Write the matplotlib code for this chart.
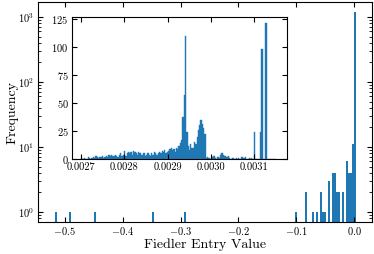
import numpy as np
import matplotlib
matplotlib.use('Agg')
import matplotlib.pyplot as plt
from matplotlib.ticker import FormatStrFormatter, MultipleLocator

plt.rcParams['font.family'] = 'serif'
plt.rcParams['font.serif'] = ['cmr10']
plt.rcParams['mathtext.fontset'] = 'cm'
plt.rcParams['axes.formatter.use_mathtext'] = True

# main histogram: entry value (bin centre) and count
main_values = [-0.5165, -0.4905, -0.4480, -0.3470, -0.2900,
               -0.0997, -0.0823, -0.0718, -0.0649, -0.0579, -0.0544, -0.0509,
               -0.0440, -0.0370, -0.0335, -0.0300, -0.0265, -0.0196,
               -0.0126, -0.0091, -0.0056, -0.0021, 0.0014]
main_counts = [1, 1, 1, 1, 1,
               1, 2, 1, 1, 2, 1, 1,
               3, 4, 4, 2, 2, 2,
               6, 4, 4, 11, 1200]
main_range = (-0.52, 0.0031)
main_bins = 150

# inset histogram: counts per bin between inset_range
inset_range = (0.00270, 0.00315)
inset_counts = [
    1, 0, 1, 0, 0, 2, 1, 0, 1, 2,
    1, 3, 2, 1, 2, 2, 3, 1, 2, 3,
    2, 4, 3, 4, 3, 3, 4, 3, 2, 4,
    5, 3, 4, 7, 3, 5, 6, 5, 6, 4,
    7, 6, 5, 4, 6, 5, 4, 4, 5, 3,
    4, 5, 4, 3, 5, 4, 6, 5, 4, 5,
    6, 5, 7, 6, 8, 5, 6, 7, 9, 10,
    8, 9, 6, 10, 9, 12, 14, 17, 38, 57,
    110, 24, 12, 8, 13, 10, 10, 15, 13, 20,
    26, 30, 35, 31, 28, 22, 1, 2, 1, 0,
    1, 2, 3, 1, 0, 2, 1, 4, 5, 4,
    3, 3, 2, 3, 1, 0, 1, 1, 0, 1,
    0, 1, 0, 2, 2, 1, 2, 0, 0, 1,
    0, 1, 0, 24, 0, 0, 0, 0, 24, 98,
    0, 0, 122, 0, 0, 0, 0, 0, 0, 0,
]

color = '#1f77b4'

fig = plt.figure(figsize=(3.74, 2.54), dpi=100)
ax = fig.add_axes([0.1016, 0.126, 0.8931, 0.866])

edges = np.linspace(main_range[0], main_range[1], main_bins + 1)
ax.hist(main_values, bins=edges, weights=main_counts, color=color, log=True)
ax.set_yscale('log')
ax.set_xlim(-0.5465, 0.031)
ax.set_ylim(0.7, 1700)
ax.xaxis.set_major_locator(MultipleLocator(0.1))
ax.set_xlabel('Fiedler Entry Value', fontsize=10, labelpad=1)
ax.set_ylabel('Frequency', fontsize=10, labelpad=0)
ax.tick_params(which='both', direction='in', top=True, right=True, labelsize=7.5, pad=2.5)
ax.tick_params(which='major', length=3.5)
ax.tick_params(which='minor', length=2)
ax.tick_params(axis='x', which='minor', top=False, bottom=False)

ax_in = fig.add_axes([0.1925, 0.374, 0.5749, 0.559])
in_edges = np.linspace(inset_range[0], inset_range[1], len(inset_counts) + 1)
in_centers = (in_edges[:-1] + in_edges[1:]) / 2
ax_in.hist(in_centers, bins=in_edges, weights=inset_counts, color=color,
           edgecolor=color, linewidth=0.3)
ax_in.set_xlim(0.002679, 0.003176)
ax_in.set_ylim(0, 127)
ax_in.set_xticks([0.0027, 0.0028, 0.0029, 0.0030, 0.0031])
ax_in.xaxis.set_major_formatter(FormatStrFormatter('%.4f'))
ax_in.set_yticks([0, 25, 50, 75, 100, 125])
ax_in.tick_params(direction='in', top=True, right=True, labelsize=7.5, length=3.5, pad=2.5)

fig.savefig('out.png', dpi=100)
